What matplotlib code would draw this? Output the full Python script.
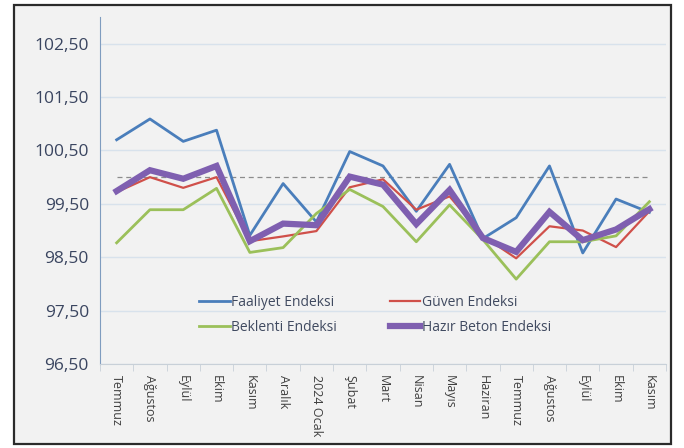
import matplotlib
matplotlib.use("Agg")
import matplotlib.pyplot as plt
from matplotlib.patches import Rectangle
from matplotlib.ticker import FixedLocator

months = ["Temmuz", "Ağustos", "Eylül", "Ekim", "Kasım", "Aralık", "2024 Ocak",
          "Şubat", "Mart", "Nisan", "Mayıs", "Haziran", "Temmuz", "Ağustos",
          "Eylül", "Ekim", "Kasım"]

faaliyet = [100.70, 101.09, 100.67, 100.88, 98.91, 99.88, 99.16, 100.48, 100.21,
            99.36, 100.24, 98.85, 99.24, 100.21, 98.58, 99.59, 99.34]
guven = [99.72, 100.00, 99.80, 100.00, 98.80, 98.89, 98.99, 99.81, 99.96,
         99.39, 99.64, 98.90, 98.48, 99.08, 99.00, 98.69, 99.36]
beklenti = [98.77, 99.39, 99.39, 99.79, 98.59, 98.68, 99.32, 99.77, 99.45,
            98.79, 99.48, 98.83, 98.09, 98.79, 98.79, 98.90, 99.54]
hazir = [99.74, 100.13, 99.97, 100.21, 98.80, 99.13, 99.10, 100.01, 99.86,
         99.12, 99.76, 98.86, 98.60, 99.35, 98.82, 99.02, 99.40]
reference = [100.0] * len(months)

y_ticks = [96.5, 97.5, 98.5, 99.5, 100.5, 101.5, 102.5]
y_tick_labels = ["96,50", "97,50", "98,50", "99,50", "100,50", "101,50", "102,50"]

plt.rcParams['font.family'] = ['Open Sans', 'DejaVu Sans']

fig = plt.figure(figsize=(6.84, 4.48), dpi=100)
fig.patch.set_facecolor("white")
bg = Rectangle((14 / 684, 4 / 448), 657 / 684, 439 / 448,
               transform=fig.transFigure, facecolor="#f2f2f2",
               edgecolor="#2b2b2b", linewidth=1.6, zorder=-10)
fig.add_artist(bg)

ax = fig.add_axes([100 / 684, 1 - 364 / 448, 566 / 684, 347 / 448])
ax.set_zorder(5)
ax.set_facecolor("none")

x = list(range(len(months)))
ax.plot(x, reference, color="#8c8c8c", lw=0.9, ls=(0, (4, 3)), zorder=2)
l1, = ax.plot(x, faaliyet, color="#4a7ebb", lw=2.0, label="Faaliyet Endeksi", zorder=3)
l2, = ax.plot(x, guven, color="#d0504a", lw=1.6, label="Güven Endeksi", zorder=3)
l3, = ax.plot(x, beklenti, color="#9bc05a", lw=2.0, label="Beklenti Endeksi", zorder=3)
l4, = ax.plot(x, hazir, color="#7f5fb0", lw=4.5, label="Hazır Beton Endeksi", zorder=4,
              solid_joinstyle="miter")

ax.set_xlim(-0.5, len(months) - 0.5)
ax.set_ylim(96.5, 103.0)
ax.set_yticks(y_ticks)
ax.set_yticklabels(y_tick_labels, fontsize=12.5, color="#3a4560")
ax.tick_params(axis="y", length=0, pad=8)
ax.grid(axis="y", color="#d8e2ec", lw=1.0, zorder=1)

ax.set_xticks(x)
ax.set_xticklabels(months, rotation=270, fontsize=9, color="#404040")
ax.tick_params(axis="x", which="major", length=0, pad=8)
ax.xaxis.set_minor_locator(FixedLocator([i - 0.5 for i in range(len(months) + 1)]))
ax.tick_params(axis="x", which="minor", length=5, color="#c8d0d8", direction="out")

for s in ["top", "right"]:
    ax.spines[s].set_visible(False)
ax.spines["left"].set_color("#7f9cbf")
ax.spines["bottom"].set_color("#c8d0d8")

leg = ax.legend(handles=[l1, l3, l2, l4], ncol=2, loc="center",
                bbox_to_anchor=(0.486, 0.141), frameon=False, fontsize=10,
                handlelength=2.2, handletextpad=0.1, columnspacing=3.8,
                labelspacing=0.7)
for t in leg.get_texts():
    t.set_color("#404a60")

fig.savefig("out.png", dpi=100)
